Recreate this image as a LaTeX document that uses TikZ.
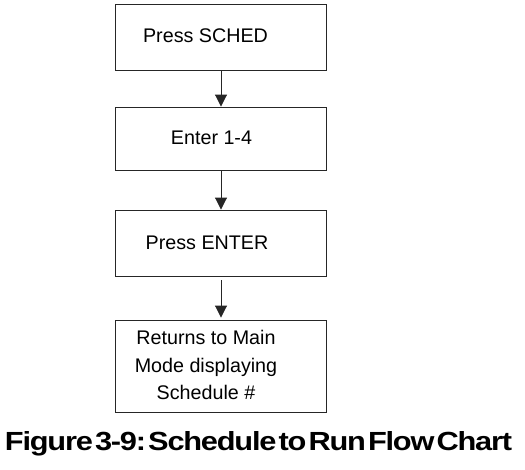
\documentclass[tikz,border=0pt]{standalone}
\usepackage{fontspec}
\setmainfont{Liberation Sans}
\usepackage{graphicx}
\usetikzlibrary{arrows.meta,positioning}

\tikzset{
  stepbox/.style={draw=black!85, line width=0.9pt, minimum width=211pt, inner sep=0pt},
  steptext/.style={font=\fontsize{19.7}{27.5}\selectfont, align=center, inner sep=0pt},
  flow/.style={draw=black!85, line width=0.9pt, -{Triangle[length=12pt,width=12pt]}}
}

\begin{document}
\begin{tikzpicture}[x=1pt,y=-1pt]
    \useasboundingbox (0,0) rectangle (525,469);
    % boxes
    \node[stepbox, minimum height=66pt] (sched) at (221,37) {};
    \node[stepbox, minimum height=63pt] (enter) at (221,138.5) {};
    \node[stepbox, minimum height=66pt] (press) at (221,243) {};
    \node[stepbox, minimum height=92pt] (main) at (221,366) {};

    % texts
    \node[steptext] (schedtxt) at (205.5,35.5) {Press SCHED};
    \node[steptext] (entertxt) at (211.5,138) {Enter 1-4};
    \node[steptext] (presstxt) at (207,243) {Press ENTER};
    \node[steptext] (maintxt) at (206,365) {Returns to Main\\Mode displaying\\Schedule \#};

    % arrows
    \draw[flow] (sched) -- (enter);
    \draw[flow] (enter) -- (press);
    \draw[flow, shorten <=4pt, shorten >=2pt] (press) -- (main);

    % caption
    \node[anchor=base, inner sep=0pt] (caption) at (258.5,450.5)
      {\resizebox{507pt}{19pt}{\bfseries\addfontfeatures{LetterSpace=-4}Figure\hspace{0.07em}3-9:\hspace{0.07em}Schedule\hspace{0.07em}to\hspace{0.07em}Run\hspace{0.07em}Flow\hspace{0.07em}Chart}};
\end{tikzpicture}
\end{document}
